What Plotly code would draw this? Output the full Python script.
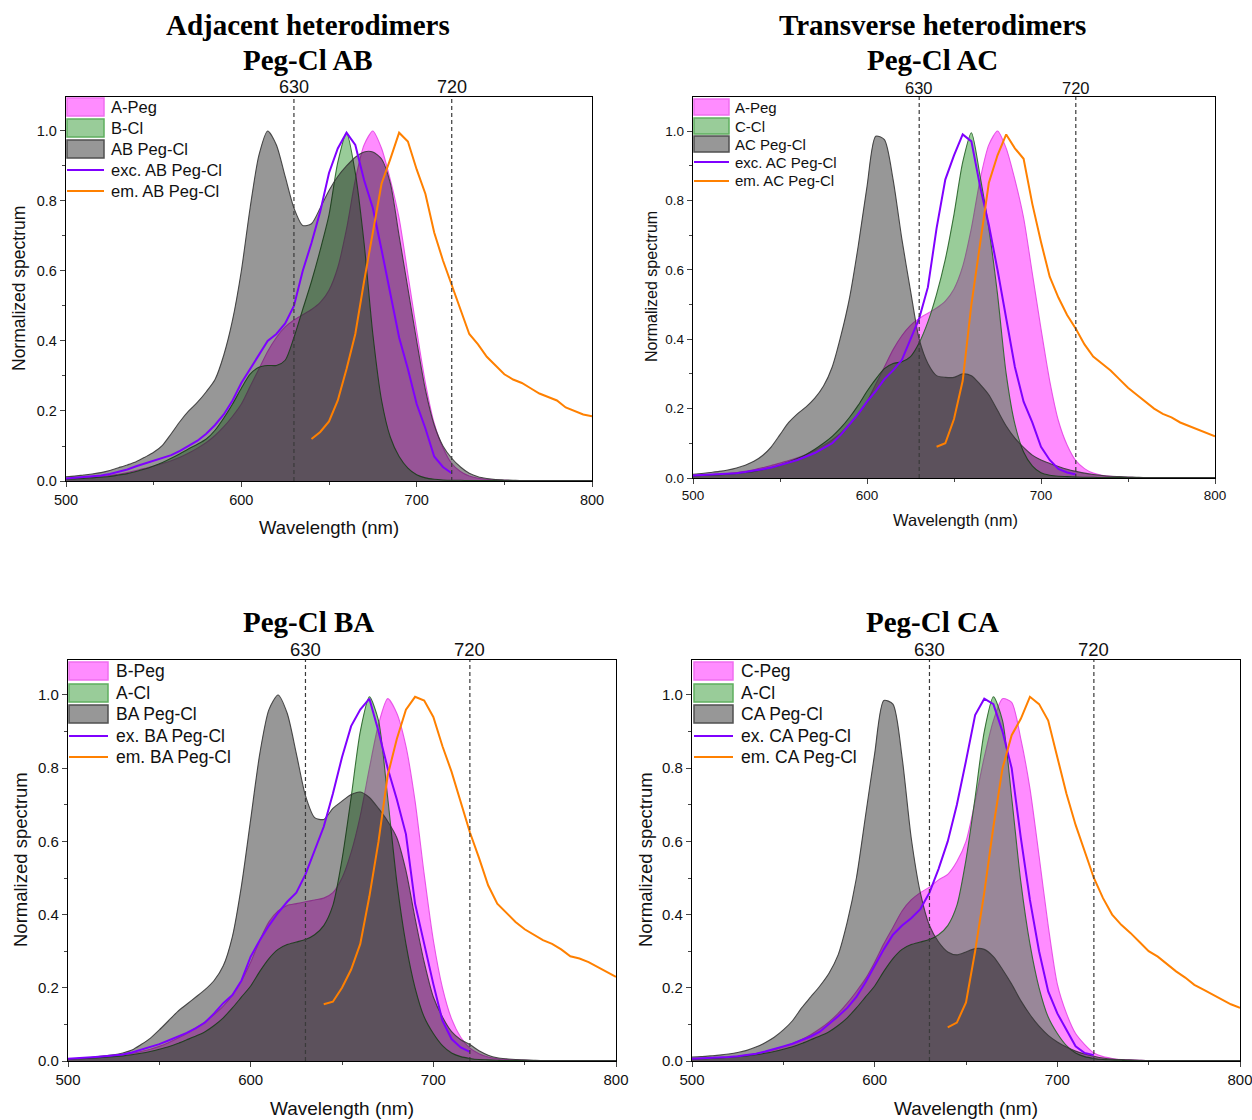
import plotly.graph_objects as go

W, H = 1252, 1120

# ---------------- data ----------------
WL = list(range(500, 801, 5))        # wavelength grid for absorption spectra (nm)
EXC_WL = list(range(500, 721, 5))    # excitation spectra grid
EM_WL = list(range(640, 801, 5))     # emission spectra grid
MARKER_WL = [630, 720]

A_PEG = [0.007, 0.008, 0.009, 0.011, 0.013, 0.016, 0.019, 0.024, 0.03, 0.036,
         0.043, 0.05, 0.058, 0.068, 0.08, 0.094, 0.11, 0.13, 0.155, 0.185,
         0.22, 0.27, 0.32, 0.37, 0.41, 0.44, 0.46, 0.475, 0.49, 0.51,
         0.545, 0.61, 0.72, 0.86, 0.96, 1.0, 0.95, 0.86, 0.75, 0.59,
         0.43, 0.28, 0.165, 0.095, 0.05, 0.027, 0.014, 0.008, 0.005, 0.003,
         0.002, 0.001, 0.001, 0.001, 0.001, 0.001, 0.001, 0.001, 0.001, 0.001, 0.001]
B_CL = [0.005, 0.006, 0.007, 0.009, 0.011, 0.013, 0.017, 0.021, 0.027, 0.034,
        0.043, 0.053, 0.065, 0.078, 0.092, 0.105, 0.12, 0.145, 0.18, 0.22,
        0.265, 0.305, 0.325, 0.33, 0.33, 0.345, 0.41, 0.49, 0.57, 0.66,
        0.76, 0.91, 0.995, 0.88, 0.68, 0.42, 0.23, 0.125, 0.07, 0.037,
        0.018, 0.009, 0.005, 0.003, 0.002, 0.002, 0.001, 0.001, 0.001, 0.001,
        0.001, 0.001, 0.001, 0.001, 0.001, 0.001, 0.001, 0.001, 0.001, 0.001, 0.001]
AB_PEGCL = [0.012, 0.014, 0.017, 0.02, 0.024, 0.03, 0.038, 0.046, 0.055, 0.068,
            0.082, 0.102, 0.135, 0.17, 0.2, 0.225, 0.255, 0.29, 0.36, 0.46,
            0.6, 0.78, 0.93, 1.0, 0.96, 0.87, 0.78, 0.73, 0.735, 0.78,
            0.83, 0.87, 0.9, 0.925, 0.94, 0.94, 0.92, 0.85, 0.7, 0.55,
            0.4, 0.26, 0.16, 0.1, 0.065, 0.04, 0.022, 0.012, 0.007, 0.004,
            0.003, 0.002, 0.001, 0.001, 0.001, 0.001, 0.001, 0.001, 0.001, 0.001, 0.001]
EXC_AB = [0.007, 0.009, 0.011, 0.013, 0.016, 0.02, 0.026, 0.033, 0.042, 0.05,
          0.056, 0.064, 0.074, 0.086, 0.1, 0.115, 0.135, 0.16, 0.19, 0.23,
          0.28, 0.32, 0.36, 0.4, 0.42, 0.45, 0.5, 0.6, 0.68, 0.77,
          0.88, 0.95, 0.995, 0.96, 0.86, 0.78, 0.66, 0.54, 0.41, 0.32,
          0.22, 0.15, 0.07, 0.04, 0.022]
EM_AB = [0.12, 0.14, 0.17, 0.23, 0.32, 0.42, 0.57, 0.71, 0.85, 0.92,
         0.995, 0.97, 0.89, 0.82, 0.71, 0.63, 0.56, 0.49, 0.42, 0.39,
         0.355, 0.33, 0.305, 0.29, 0.28, 0.265, 0.25, 0.24, 0.23, 0.21,
         0.2, 0.19, 0.185]

C_CL = [0.006, 0.007, 0.008, 0.009, 0.011, 0.013, 0.016, 0.019, 0.024, 0.03,
        0.037, 0.046, 0.056, 0.068, 0.083, 0.1, 0.12, 0.145, 0.175, 0.21,
        0.25, 0.285, 0.315, 0.33, 0.335, 0.35, 0.39, 0.45, 0.53, 0.63,
        0.76, 0.91, 0.995, 0.87, 0.72, 0.53, 0.3, 0.155, 0.075, 0.035,
        0.015, 0.008, 0.005, 0.004, 0.003, 0.002, 0.002, 0.001, 0.001, 0.001,
        0.001, 0.001, 0.001, 0.001, 0.001, 0.001, 0.001, 0.001, 0.001, 0.001, 0.001]
AC_PEGCL = [0.011, 0.013, 0.016, 0.019, 0.023, 0.029, 0.037, 0.048, 0.065, 0.09,
            0.125, 0.16, 0.185, 0.205, 0.23, 0.265, 0.32, 0.41, 0.52, 0.67,
            0.84, 0.985, 0.975, 0.86, 0.69, 0.54, 0.4, 0.33, 0.295, 0.29,
            0.29, 0.3, 0.295, 0.27, 0.24, 0.195, 0.15, 0.115, 0.088, 0.066,
            0.052, 0.042, 0.033, 0.025, 0.019, 0.014, 0.01, 0.007, 0.005, 0.004,
            0.003, 0.002, 0.001, 0.001, 0.001, 0.001, 0.001, 0.001, 0.001, 0.001, 0.001]
EXC_AC = [0.007, 0.008, 0.009, 0.01, 0.012, 0.014, 0.017, 0.02, 0.025, 0.03,
          0.037, 0.044, 0.052, 0.062, 0.072, 0.086, 0.1, 0.125, 0.155, 0.185,
          0.22, 0.25, 0.285, 0.31, 0.34, 0.4, 0.46, 0.55, 0.72, 0.86,
          0.93, 0.99, 0.97, 0.84, 0.73, 0.6, 0.46, 0.32, 0.22, 0.16,
          0.09, 0.052, 0.026, 0.016, 0.01]
EM_AC = [0.09, 0.1, 0.17, 0.28, 0.5, 0.68, 0.85, 0.93, 0.99, 0.95,
         0.92, 0.79, 0.68, 0.58, 0.52, 0.47, 0.43, 0.385, 0.35, 0.33,
         0.31, 0.285, 0.26, 0.24, 0.22, 0.2, 0.185, 0.175, 0.16, 0.15,
         0.14, 0.13, 0.12]

B_PEG = [0.006, 0.007, 0.008, 0.01, 0.012, 0.014, 0.017, 0.021, 0.026, 0.032,
         0.04, 0.05, 0.062, 0.075, 0.09, 0.107, 0.127, 0.15, 0.18, 0.22,
         0.27, 0.33, 0.38, 0.41, 0.425, 0.43, 0.435, 0.44, 0.445, 0.46,
         0.5, 0.57, 0.67, 0.8, 0.92, 0.99, 0.95, 0.86, 0.71, 0.51,
         0.33, 0.2, 0.115, 0.065, 0.035, 0.02, 0.011, 0.006, 0.004, 0.003,
         0.002, 0.001, 0.001, 0.001, 0.001, 0.001, 0.001, 0.001, 0.001, 0.001, 0.001]
A_CL = [0.005, 0.006, 0.007, 0.008, 0.01, 0.012, 0.014, 0.017, 0.021, 0.026,
        0.032, 0.039, 0.048, 0.058, 0.068, 0.08, 0.097, 0.118, 0.145, 0.175,
        0.205, 0.245, 0.28, 0.305, 0.318, 0.325, 0.332, 0.345, 0.37, 0.425,
        0.55, 0.72, 0.9, 0.995, 0.93, 0.72, 0.49, 0.32, 0.2, 0.12,
        0.075, 0.042, 0.022, 0.012, 0.007, 0.004, 0.003, 0.002, 0.001, 0.001,
        0.001, 0.001, 0.001, 0.001, 0.001, 0.001, 0.001, 0.001, 0.001, 0.001, 0.001]
BA_PEGCL = [0.006, 0.007, 0.009, 0.011, 0.014, 0.017, 0.022, 0.03, 0.045, 0.062,
            0.085, 0.11, 0.135, 0.155, 0.175, 0.195, 0.22, 0.26, 0.34, 0.48,
            0.66, 0.84, 0.96, 1.0, 0.95, 0.84, 0.725, 0.665, 0.66, 0.69,
            0.71, 0.728, 0.735, 0.72, 0.69, 0.655, 0.61, 0.52, 0.39, 0.27,
            0.175, 0.12, 0.08, 0.058, 0.045, 0.028, 0.016, 0.009, 0.006, 0.004,
            0.003, 0.002, 0.001, 0.001, 0.001, 0.001, 0.001, 0.001, 0.001, 0.001, 0.001]
EXC_BA = [0.006, 0.007, 0.009, 0.011, 0.013, 0.015, 0.018, 0.023, 0.03, 0.038,
          0.046, 0.056, 0.066, 0.077, 0.09, 0.105, 0.13, 0.158, 0.18, 0.22,
          0.285, 0.33, 0.37, 0.405, 0.435, 0.46, 0.51, 0.575, 0.64, 0.73,
          0.83, 0.915, 0.96, 0.99, 0.9, 0.8, 0.715, 0.62, 0.43, 0.32,
          0.21, 0.11, 0.06, 0.037, 0.025]
EM_BA = [0.155, 0.162, 0.2, 0.25, 0.32, 0.45, 0.6, 0.78, 0.88, 0.96,
         0.995, 0.985, 0.94, 0.86, 0.79, 0.71, 0.625, 0.555, 0.48, 0.43,
         0.405, 0.38, 0.36, 0.345, 0.33, 0.32, 0.305, 0.286, 0.28, 0.27,
         0.257, 0.245, 0.23]

C_PEG = [0.006, 0.007, 0.008, 0.009, 0.011, 0.013, 0.016, 0.02, 0.025, 0.031,
         0.039, 0.048, 0.059, 0.072, 0.088, 0.107, 0.13, 0.158, 0.19, 0.225,
         0.27, 0.32, 0.365, 0.41, 0.44, 0.46, 0.475, 0.495, 0.51, 0.545,
         0.6, 0.71, 0.83, 0.93, 0.99, 0.98, 0.88, 0.745, 0.56, 0.37,
         0.21, 0.13, 0.075, 0.045, 0.022, 0.012, 0.007, 0.004, 0.003, 0.002,
         0.001, 0.001, 0.001, 0.001, 0.001, 0.001, 0.001, 0.001, 0.001, 0.001, 0.001]
CA_PEGCL = [0.011, 0.012, 0.014, 0.016, 0.019, 0.023, 0.029, 0.038, 0.05, 0.065,
            0.085, 0.11, 0.145, 0.175, 0.205, 0.24, 0.29, 0.38, 0.5, 0.67,
            0.84, 0.985, 0.975, 0.83, 0.61, 0.46, 0.37, 0.325, 0.298, 0.29,
            0.298, 0.307, 0.305, 0.285, 0.25, 0.21, 0.165, 0.127, 0.095, 0.07,
            0.052, 0.038, 0.027, 0.019, 0.013, 0.008, 0.005, 0.004, 0.003, 0.002,
            0.001, 0.001, 0.001, 0.001, 0.001, 0.001, 0.001, 0.001, 0.001, 0.001, 0.001]
EXC_CA = [0.006, 0.007, 0.008, 0.009, 0.011, 0.013, 0.016, 0.02, 0.026, 0.032,
          0.04, 0.047, 0.056, 0.067, 0.08, 0.1, 0.122, 0.145, 0.175, 0.215,
          0.26, 0.305, 0.345, 0.37, 0.39, 0.415, 0.46, 0.525, 0.6, 0.7,
          0.82, 0.945, 0.99, 0.975, 0.9, 0.8, 0.61, 0.44, 0.3, 0.19,
          0.13, 0.085, 0.04, 0.022, 0.016]
EM_CA = [0.092, 0.105, 0.16, 0.3, 0.46, 0.64, 0.8, 0.89, 0.935, 0.995,
         0.975, 0.93, 0.83, 0.73, 0.645, 0.57, 0.5, 0.445, 0.4, 0.372,
         0.35, 0.325, 0.3, 0.285, 0.265, 0.245, 0.228, 0.208, 0.195, 0.182,
         0.17, 0.155, 0.145]

# ---------------- styles ----------------
MAG_FILL, MAG_LINE, MAG_EDGE = 'rgba(255,0,255,0.45)', 'rgba(230,70,230,0.9)', 'rgba(240,110,240,1)'
GRN_FILL, GRN_LINE, GRN_EDGE = 'rgba(0,128,0,0.40)', 'rgba(40,100,40,0.9)', 'rgba(95,175,95,1)'
GRY_FILL, GRY_LINE, GRY_EDGE = 'rgba(8,8,8,0.42)', 'rgba(55,55,55,0.9)', 'rgba(80,80,80,1)'
EXC_COL, EM_COL = '#7F00FF', '#FF8000'
SANS, SERIF = 'Liberation Sans, Arial, sans-serif', 'Liberation Serif, Times New Roman, serif'

panels = [
    dict(xd=(66, 592), yd=(97, 481), ytop=1.097, fills=(A_PEG, B_CL, AB_PEGCL), exc=EXC_AB, em=EM_AB,
         labels=('A-Peg', 'B-Cl', 'AB Peg-Cl', 'exc. AB Peg-Cl', 'em. AB Peg-Cl'),
         leg_x=(67, 104), leg_rows=(107, 128, 149, 170, 191), leg_h=18, leg_tx=109, leg_fs=16.5,
         titles=[('Adjacent heterodimers', 308, 25), ('Peg-Cl AB', 308, 60)],
         ytitle=(19, 289, 17.5), xtitle=(329, 527, 18.5), tick_fs=14.5, top_fs=18),
    dict(xd=(693, 1215), yd=(97, 478), ytop=1.098, fills=(A_PEG, C_CL, AC_PEGCL), exc=EXC_AC, em=EM_AC,
         labels=('A-Peg', 'C-Cl', 'AC Peg-Cl', 'exc. AC Peg-Cl', 'em. AC Peg-Cl'),
         leg_x=(694, 729), leg_rows=(107, 126, 144, 162, 181), leg_h=16, leg_tx=733, leg_fs=15,
         titles=[('Transverse heterodimers', 932, 25), ('Peg-Cl AC', 932, 60)],
         ytitle=(651, 287, 16), xtitle=(955, 520, 16.5), tick_fs=13.5, top_fs=16.5),
    dict(xd=(68, 616), yd=(660, 1061), ytop=1.0956, fills=(B_PEG, A_CL, BA_PEGCL), exc=EXC_BA, em=EM_BA,
         labels=('B-Peg', 'A-Cl', 'BA Peg-Cl', 'ex. BA Peg-Cl', 'em. BA Peg-Cl'),
         leg_x=(69, 108), leg_rows=(671, 693, 714, 736, 757), leg_h=18, leg_tx=114, leg_fs=17.5,
         titles=[('Peg-Cl BA', 308, 622)],
         ytitle=(20, 860, 18.5), xtitle=(342, 1108, 19), tick_fs=15, top_fs=18.5),
    dict(xd=(692, 1240), yd=(660, 1061), ytop=1.0956, fills=(C_PEG, A_CL, CA_PEGCL), exc=EXC_CA, em=EM_CA,
         labels=('C-Peg', 'A-Cl', 'CA Peg-Cl', 'ex. CA Peg-Cl', 'em. CA Peg-Cl'),
         leg_x=(694, 733), leg_rows=(671, 693, 714, 736, 757), leg_h=18, leg_tx=739, leg_fs=17.5,
         titles=[('Peg-Cl CA', 932, 622)],
         ytitle=(645, 860, 18.5), xtitle=(966, 1108, 19), tick_fs=15, top_fs=18.5),
]


def fx(px):
    return px / W


def fy(py):
    return 1 - py / H


fig = go.Figure()
shapes, annotations = [], []
fill_styles = [(MAG_FILL, MAG_LINE, MAG_EDGE), (GRN_FILL, GRN_LINE, GRN_EDGE), (GRY_FILL, GRY_LINE, GRY_EDGE)]

for i, p in enumerate(panels, start=1):
    xa = 'x' if i == 1 else f'x{i}'
    ya = 'y' if i == 1 else f'y{i}'
    for ys, (fc, lc, _), name in zip(p['fills'], fill_styles, p['labels'][:3]):
        fig.add_trace(go.Scatter(x=WL, y=ys, mode='lines', fill='tozeroy', fillcolor=fc, name=name,
                                 line=dict(color=lc, width=1.1, shape='spline', smoothing=0.7),
                                 showlegend=False, xaxis=xa, yaxis=ya, hoverinfo='skip'))
    fig.add_trace(go.Scatter(x=EXC_WL, y=p['exc'], mode='lines', name=p['labels'][3],
                             line=dict(color=EXC_COL, width=2), showlegend=False, xaxis=xa, yaxis=ya))
    fig.add_trace(go.Scatter(x=EM_WL, y=p['em'], mode='lines', name=p['labels'][4],
                             line=dict(color=EM_COL, width=2), showlegend=False, xaxis=xa, yaxis=ya))

    tickfont = dict(family=SANS, size=p['tick_fs'], color='#111')
    fig.layout['xaxis' if i == 1 else f'xaxis{i}'] = dict(
        domain=[fx(p['xd'][0]), fx(p['xd'][1])], range=[500, 800], anchor=ya, automargin=False,
        ticklabeloverflow='allow',
        tickmode='linear', tick0=500, dtick=100, ticks='outside', ticklen=5, tickwidth=1.2,
        minor=dict(tick0=500, dtick=50, ticks='outside', ticklen=3, tickwidth=1),
        showline=True, linecolor='black', linewidth=1.3, mirror=True,
        showgrid=False, zeroline=False, tickfont=tickfont)
    fig.layout['yaxis' if i == 1 else f'yaxis{i}'] = dict(
        domain=[fy(p['yd'][1]), fy(p['yd'][0])], range=[0, p['ytop']], anchor=xa, automargin=False,
        ticklabeloverflow='allow',
        tickmode='linear', tick0=0, dtick=0.2, tickformat='.1f', ticks='outside', ticklen=5, tickwidth=1.2,
        minor=dict(tick0=0, dtick=0.1, ticks='outside', ticklen=3, tickwidth=1),
        showline=True, linecolor='black', linewidth=1.3, mirror=True,
        showgrid=False, zeroline=False, tickfont=tickfont)

    # dashed marker lines + top labels
    for m in MARKER_WL:
        shapes.append(dict(type='line', xref=xa, yref=f'{ya} domain', x0=m, x1=m, y0=0, y1=1,
                           line=dict(color='#3a3a3a', width=1.2, dash='4px,3px'), layer='above'))
        annotations.append(dict(text=str(m), x=m, xref=xa, y=1, yref=f'{ya} domain', yanchor='bottom',
                                showarrow=False, yshift=-2, font=dict(family=SANS, size=p['top_fs'], color='#111')))

    # manual legend
    x0, x1 = p['leg_x']
    hh = p['leg_h'] / 2
    for k, (fc, _, ec) in enumerate(fill_styles):
        yc = p['leg_rows'][k]
        shapes.append(dict(type='rect', xref='paper', yref='paper', x0=fx(x0), x1=fx(x1),
                           y0=fy(yc + hh), y1=fy(yc - hh), fillcolor=fc, line=dict(color=ec, width=1.5)))
    for k, col in zip((3, 4), (EXC_COL, EM_COL)):
        yc = p['leg_rows'][k]
        shapes.append(dict(type='line', xref='paper', yref='paper', x0=fx(x0), x1=fx(x1),
                           y0=fy(yc), y1=fy(yc), line=dict(color=col, width=2)))
    for k, lab in enumerate(p['labels']):
        annotations.append(dict(text=lab, x=fx(p['leg_tx']), y=fy(p['leg_rows'][k]), xref='paper', yref='paper',
                                xanchor='left', yanchor='middle', showarrow=False,
                                font=dict(family=SANS, size=p['leg_fs'], color='#111')))

    # titles
    for txt, tx, ty in p['titles']:
        annotations.append(dict(text=f'<b>{txt}</b>', x=fx(tx), y=fy(ty), xref='paper', yref='paper',
                                xanchor='center', yanchor='middle', showarrow=False,
                                font=dict(family=SERIF, size=29, color='black')))
    # axis titles
    tx, ty, fs = p['ytitle']
    annotations.append(dict(text='Normalized spectrum', x=fx(tx), y=fy(ty), xref='paper', yref='paper',
                            textangle=-90, xanchor='center', yanchor='middle', showarrow=False,
                            font=dict(family=SANS, size=fs, color='#111')))
    tx, ty, fs = p['xtitle']
    annotations.append(dict(text='Wavelength (nm)', x=fx(tx), y=fy(ty), xref='paper', yref='paper',
                            xanchor='center', yanchor='middle', showarrow=False,
                            font=dict(family=SANS, size=fs, color='#111')))

fig.update_layout(width=W, height=H, margin=dict(l=0, r=0, t=0, b=0, autoexpand=False),
                  paper_bgcolor='white', plot_bgcolor='white', showlegend=False,
                  shapes=shapes, annotations=annotations)
fig.write_html('out.html')
